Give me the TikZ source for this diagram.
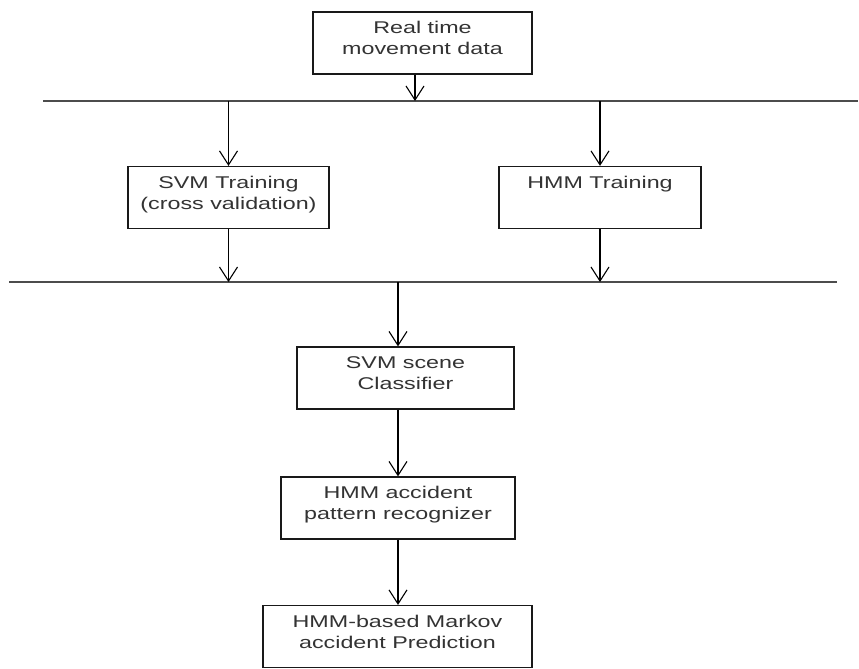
\documentclass[tikz,border=0pt]{standalone}
\usepackage{fontspec}
\usetikzlibrary{arrows.meta}
% wide sans face used for all box labels
\newfontfamily\diagfont[FakeStretch=1.37]{Liberation Sans}
\begin{document}
\begin{tikzpicture}[x=1pt,y=-1pt,
  box/.style={draw=black!90, line width=1.2pt, minimum width=#1,
    minimum height=62pt, inner sep=0pt},
  txt/.style={font={\diagfont\fontsize{17pt}{21pt}\selectfont}, text=black!80,
    align=center, inner sep=0pt, anchor=north},
  bus/.style={draw=black!70, line width=2pt},
  arr/.style={draw=black, line width=1.1pt,
    -{Straight Barb[length=14pt,width=18pt,line width=1.1pt]}}]
\fill[white] (0,0) rectangle (859,669);
\useasboundingbox (0,0) rectangle (859,669);

% boxes
\node[box=219] (rt)   at (422.5,43)  {};
\node[box=201] (svmt) at (228.5,197.5) {};
\node[box=202] (hmmt) at (600,197.5) {};
\node[box=217] (svms) at (405.5,378) {};
\node[box=234] (hmma) at (398,508) {};
\node[box=269] (pred) at (397.5,636.5) {};

% labels, set near the top of each box
\node[txt] (rt-t)   at ([yshift=-10pt]rt.north)   {Real time\\movement data};
\node[txt] (svmt-t) at ([yshift=-10pt]svmt.north) {SVM Training\\(cross validation)};
\node[txt] (hmmt-t) at ([yshift=-10pt]hmmt.north) {HMM Training};
\node[txt] (svms-t) at ([yshift=-10pt]svms.north) {SVM scene\\Classifier};
\node[txt] (hmma-t) at ([yshift=-10pt]hmma.north) {HMM accident\\pattern recognizer};
\node[txt] (pred-t) at ([yshift=-10pt]pred.north) {HMM-based Markov\\accident Prediction};

% distribution lines
\coordinate (l1a) at (43,101);
\coordinate (l1b) at (858,101);
\coordinate (l2a) at (9,282);
\coordinate (l2b) at (837,282);
\draw[bus] (l1a) -- (l1b);
\draw[bus] (l2a) -- (l2b);

% connectors
\draw[arr] ([xshift=-7.5pt]rt.south) -- ([xshift=-7.5pt]rt.south |- l1a);
\draw[arr] (svmt.north |- l1a) -- (svmt.north);
\draw[arr] (hmmt.north |- l1a) -- (hmmt.north);
\draw[arr] (svmt.south) -- (svmt.south |- l2a);
\draw[arr] (hmmt.south) -- (hmmt.south |- l2a);
\draw[arr] ([xshift=-7.5pt]svms.north |- l2a) -- ([xshift=-7.5pt]svms.north);
\draw[arr] (hmma.north |- svms.south) -- (hmma.north);
\draw[arr] (hmma.south) -- (pred.north -| hmma.south);
\end{tikzpicture}
\end{document}
